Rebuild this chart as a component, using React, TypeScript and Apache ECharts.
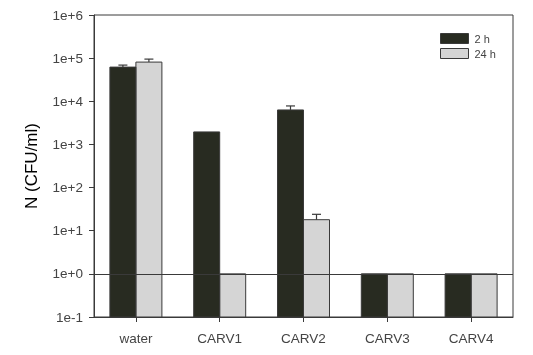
import React, { useEffect, useRef } from "react";
import * as echarts from "echarts";

const categories = ["water", "CARV1", "CARV2", "CARV3", "CARV4"];
const seriesNames = ["2 h", "24 h"];
const values2h = [62000, 1950, 6300, 1, 1];
const values24h = [81000, 1, 18, 1, 1];
const err2h = [69000, null, 7800, null, null];
const err24h = [95000, null, 24, null, null];
const yTickExponents = [-1, 0, 1, 2, 3, 4, 5, 6];

const DARK = "#282b21";
const LIGHT = "#d5d5d5";
const LINE = "#3a3a3a";
const BAR_W = 26;
const Y_MIN = Math.pow(10, yTickExponents[0]);

export default function App() {
  const ref = useRef<HTMLDivElement>(null);
  useEffect(() => {
    if (!ref.current) return;
    const chart = echarts.init(ref.current, undefined, { renderer: "svg" });

    const barSeries = (name: string, vals: number[], errs: (number | null)[], side: number, color: string) => ({
      name,
      type: "custom",
      z: side < 0 ? 3 : 2,
      itemStyle: { color, borderColor: LINE, borderWidth: 1 },
      data: vals.map((v, i) => [i, v, errs[i] == null ? v : errs[i]]),
      renderItem: (params: any, api: any) => {
        const c = api.value(0);
        const top = api.coord([c, api.value(1)]);
        const bottom = api.coord([c, Y_MIN]);
        const errTop = api.coord([c, api.value(2)]);
        const x0 = side < 0 ? top[0] - BAR_W : top[0];
        const lineStyle = { stroke: LINE, lineWidth: 1.2 };
        const children: any[] = [
          {
            type: "rect",
            shape: { x: x0, y: top[1], width: BAR_W, height: bottom[1] - top[1] },
            style: { fill: color, stroke: LINE, lineWidth: 1 },
          },
        ];
        if (errTop[1] < top[1] - 0.5) {
          const ex = top[0] + side * (BAR_W / 2);
          children.push(
            { type: "line", shape: { x1: ex, y1: top[1], x2: ex, y2: errTop[1] }, style: lineStyle },
            { type: "line", shape: { x1: ex - 4.5, y1: errTop[1], x2: ex + 4.5, y2: errTop[1] }, style: lineStyle }
          );
        }
        return { type: "group", children };
      },
    });

    chart.setOption({
      animation: false,
      textStyle: { fontFamily: "Liberation Sans, Arial, sans-serif" },
      grid: {
        left: 94,
        right: 20,
        top: 15,
        bottom: 38,
        show: true,
        borderColor: LINE,
        borderWidth: 1,
        backgroundColor: "transparent",
      },
      legend: {
        left: 435,
        top: 28,
        orient: "vertical",
        itemWidth: 28,
        itemHeight: 10,
        itemGap: 4,
        icon: "rect",
        data: [
          { name: seriesNames[0], itemStyle: { color: DARK, borderColor: LINE, borderWidth: 1 } },
          { name: seriesNames[1], itemStyle: { color: LIGHT, borderColor: LINE, borderWidth: 1 } },
        ],
        textStyle: { fontSize: 11, color: "#444", padding: [0, 0, 0, 1] },
      },
      xAxis: {
        type: "category",
        data: categories,
        axisLine: { show: true, lineStyle: { color: LINE } },
        axisTick: { show: true, alignWithLabel: true, length: 5, lineStyle: { color: LINE } },
        axisLabel: { color: "#444", fontSize: 13.5, margin: 14 },
      },
      yAxis: {
        type: "log",
        logBase: 10,
        min: Y_MIN,
        max: Math.pow(10, yTickExponents[yTickExponents.length - 1]),
        splitNumber: yTickExponents.length - 1,
        name: "N (CFU/ml)",
        nameLocation: "middle",
        nameGap: 54,
        nameTextStyle: { fontSize: 17, color: "#000" },
        axisLine: { show: true, lineStyle: { color: LINE } },
        axisTick: { show: true, length: 5, lineStyle: { color: LINE } },
        splitLine: { show: false },
        axisLabel: {
          color: "#444",
          fontSize: 13.5,
          margin: 11,
          formatter: (v: number) => {
            const e = Math.round(Math.log10(v));
            return "1e" + (e < 0 ? "-" : "+") + Math.abs(e);
          },
        },
      },
      series: [
        barSeries(seriesNames[0], values2h, err2h, -1, DARK),
        barSeries(seriesNames[1], values24h, err24h, 1, LIGHT),
        {
          type: "line",
          data: [],
          z: 10,
          markLine: {
            silent: true,
            symbol: "none",
            label: { show: false },
            lineStyle: { color: LINE, type: "solid", width: 1 },
            data: [{ yAxis: 1 }],
          },
        },
      ],
    });
    return () => chart.dispose();
  }, []);
  return <div ref={ref} style={{ position: "fixed", left: 0, top: 0, width: 533, height: 355 }} />;
}
